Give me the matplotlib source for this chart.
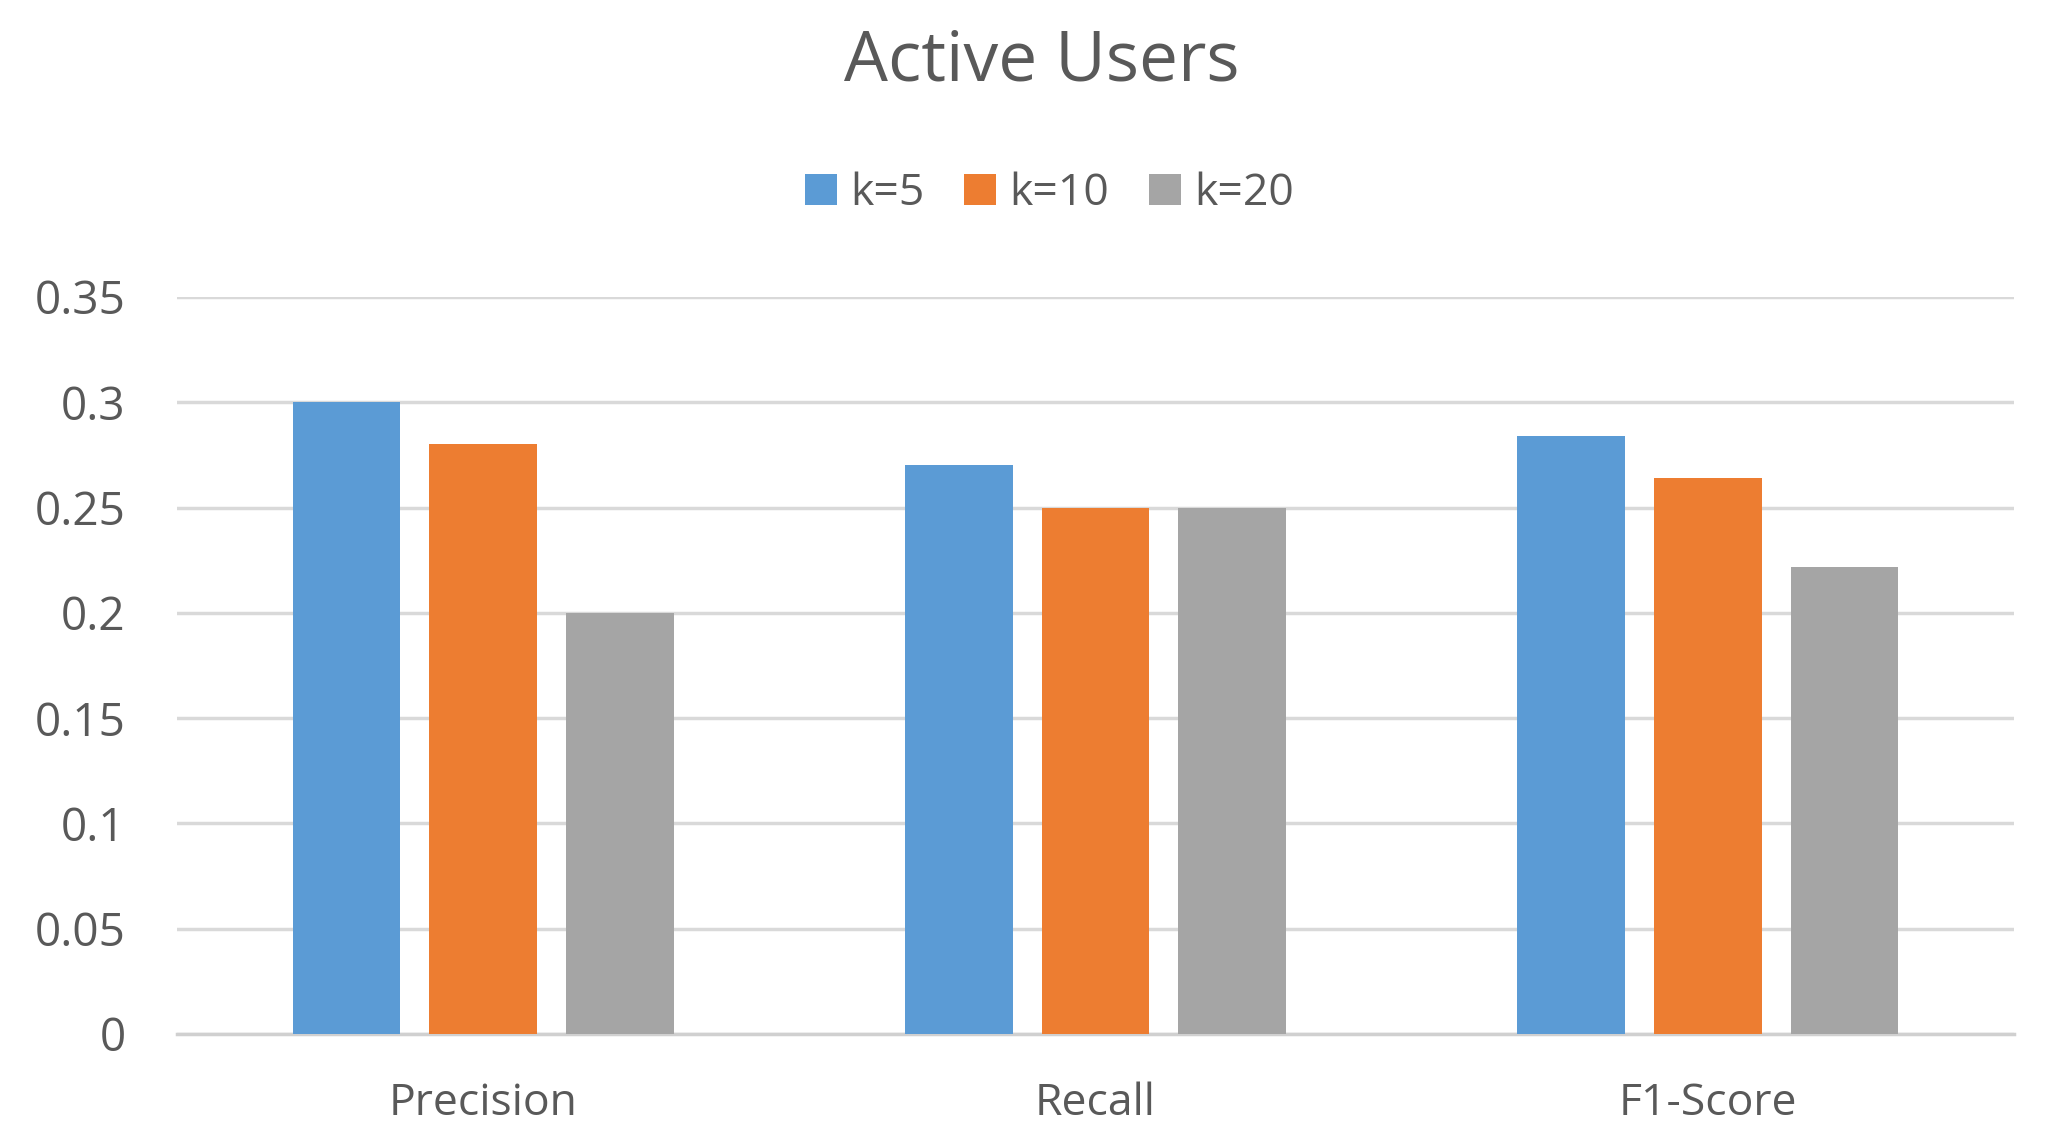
import matplotlib.pyplot as plt
import numpy as np

plt.rcParams['font.family'] = ['Open Sans', 'DejaVu Sans']

categories = ['Precision', 'Recall', 'F1-Score']
series = ['k=5', 'k=10', 'k=20']
k5 = [0.300, 0.270, 0.284]
k10 = [0.280, 0.250, 0.264]
k20 = [0.200, 0.250, 0.222]
yticks = [0, 0.05, 0.1, 0.15, 0.2, 0.25, 0.3, 0.35]
ytick_labels = ['0', '0.05', '0.1', '0.15', '0.2', '0.25', '0.3', '0.35']
colors = ['#5B9BD5', '#ED7D31', '#A5A5A5']
txt = '#595959'

fig = plt.figure(figsize=(20.5, 11.4), dpi=100)
ax = fig.add_axes([0.0863, 0.093, 0.8962, 0.6465])

x = np.arange(len(categories))
w = 0.176
step = 0.223
for i, (vals, lab) in enumerate(zip([k5, k10, k20], series)):
    ax.bar(x + (i - 1) * step, vals, width=w, color=colors[i], label=lab, zorder=3)

ax.set_xlim(-0.5, 2.5)
ax.set_ylim(0, 0.35)
ax.set_yticks(yticks)
ax.set_yticklabels(ytick_labels)
ax.set_xticks(x)
ax.set_xticklabels(categories)
ax.tick_params(axis='y', length=0, pad=37, labelsize=33, labelcolor=txt)
ax.tick_params(axis='x', length=0, pad=34, labelsize=32, labelcolor=txt)
ax.grid(axis='y', color='#D9D9D9', linewidth=2.5, zorder=0)
for s in ['top', 'right', 'left']:
    ax.spines[s].set_visible(False)
ax.spines['bottom'].set_color('#D0D0D0')
ax.spines['bottom'].set_linewidth(2.5)

fig.text(0.508, 0.945, 'Active Users', ha='center', va='center', fontsize=50, color=txt)
fig.legend(loc='center', bbox_to_anchor=(0.512, 0.83), ncol=3, frameon=False,
           fontsize=32, labelcolor=txt, handlelength=0.72, handleheight=0.72,
           handletextpad=0.3, columnspacing=0.9)

fig.savefig('out.png', dpi=100)
